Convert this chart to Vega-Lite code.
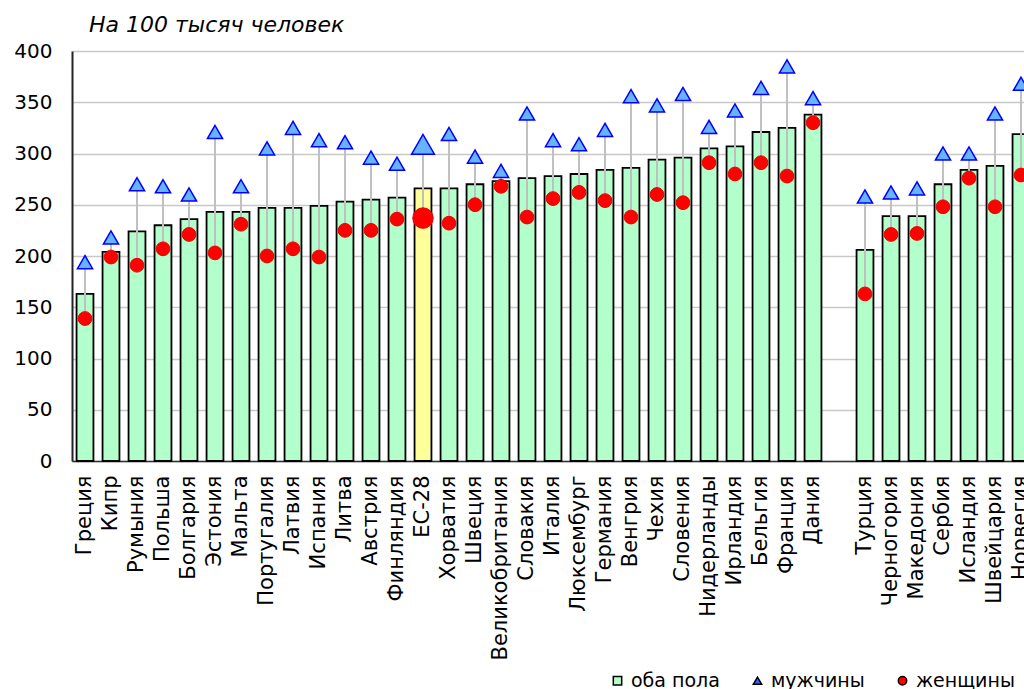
{
  "$schema": "https://vega.github.io/schema/vega-lite/v6.json",
  "width": 952,
  "height": 410,
  "autosize": {"type": "none"},
  "padding": {"left": 72, "top": 51, "right": 0, "bottom": 228},
  "background": "white",
  "title": {
    "text": "На 100 тысяч человек",
    "anchor": "start",
    "frame": "group",
    "dx": 17,
    "offset": 4,
    "font": "DejaVu Sans",
    "fontSize": 22,
    "fontStyle": "italic",
    "fontWeight": "normal",
    "color": "black"
  },
  "config": {
    "view": {"stroke": null},
    "font": "DejaVu Sans"
  },
  "data": {
    "values": [
      {"country": "Греция", "both": 163, "men": 194, "women": 139},
      {"country": "Кипр", "both": 204, "men": 218, "women": 199},
      {"country": "Румыния", "both": 224, "men": 270, "women": 191},
      {"country": "Польша", "both": 230, "men": 268, "women": 207},
      {"country": "Болгария", "both": 236, "men": 260, "women": 221},
      {"country": "Эстония", "both": 243, "men": 321, "women": 203},
      {"country": "Мальта", "both": 243, "men": 268, "women": 231},
      {"country": "Португалия", "both": 247, "men": 305, "women": 200},
      {"country": "Латвия", "both": 247, "men": 325, "women": 207},
      {"country": "Испания", "both": 249, "men": 313, "women": 199},
      {"country": "Литва", "both": 253, "men": 311, "women": 225},
      {"country": "Австрия", "both": 255, "men": 296, "women": 225},
      {"country": "Финляндия", "both": 257, "men": 290, "women": 236},
      {"country": "ЕС-28", "both": 266, "men": 309, "women": 237},
      {"country": "Хорватия", "both": 266, "men": 319, "women": 232},
      {"country": "Швеция", "both": 270, "men": 297, "women": 250},
      {"country": "Великобритания", "both": 273, "men": 283, "women": 268},
      {"country": "Словакия", "both": 276, "men": 339, "women": 238},
      {"country": "Италия", "both": 278, "men": 313, "women": 256},
      {"country": "Люксембург", "both": 280, "men": 309, "women": 262},
      {"country": "Германия", "both": 284, "men": 323, "women": 254},
      {"country": "Венгрия", "both": 286, "men": 356, "women": 238},
      {"country": "Чехия", "both": 294, "men": 347, "women": 260},
      {"country": "Словения", "both": 296, "men": 358, "women": 252},
      {"country": "Нидерланды", "both": 305, "men": 326, "women": 291},
      {"country": "Ирландия", "both": 307, "men": 342, "women": 280},
      {"country": "Бельгия", "both": 321, "men": 364, "women": 291},
      {"country": "Франция", "both": 325, "men": 385, "women": 278},
      {"country": "Дания", "both": 338, "men": 354, "women": 330},
      {"country": "Турция", "both": 206, "men": 258, "women": 163},
      {"country": "Черногория", "both": 239, "men": 262, "women": 221},
      {"country": "Македония", "both": 239, "men": 266, "women": 222},
      {"country": "Сербия", "both": 270, "men": 300, "women": 248},
      {"country": "Исландия", "both": 284, "men": 300, "women": 276},
      {"country": "Швейцария", "both": 288, "men": 339, "women": 248},
      {"country": "Норвегия", "both": 319, "men": 368, "women": 279}
    ]
  },
  "encoding": {
    "x": {
      "field": "country",
      "type": "nominal",
      "sort": null,
      "scale": {
        "domain": ["Греция", "Кипр", "Румыния", "Польша", "Болгария", "Эстония", "Мальта", "Португалия", "Латвия", "Испания", "Литва", "Австрия", "Финляндия", "ЕС-28", "Хорватия", "Швеция", "Великобритания", "Словакия", "Италия", "Люксембург", "Германия", "Венгрия", "Чехия", "Словения", "Нидерланды", "Ирландия", "Бельгия", "Франция", "Дания", " ", "Турция", "Черногория", "Македония", "Сербия", "Исландия", "Швейцария", "Норвегия"],
        "range": [0, 962],
        "paddingInner": 0.35,
        "paddingOuter": 0.175
      },
      "axis": {
        "title": null,
        "labelAngle": -90,
        "labelAlign": "right",
        "labelBaseline": "middle",
        "labelFont": "DejaVu Sans",
        "labelFontSize": 21,
        "labelColor": "black",
        "labelPadding": 14,
        "labelLimit": 300,
        "labelOverlap": false,
        "ticks": false,
        "domainColor": "#333333",
        "domainWidth": 1.5,
        "grid": false
      }
    }
  },
  "layer": [
    {
      "mark": {"type": "bar", "stroke": "black", "strokeWidth": 1.8},
      "encoding": {
        "y": {
          "field": "both",
          "type": "quantitative",
          "scale": {"domain": [0, 400], "nice": false},
          "axis": {
            "title": null,
            "values": [0, 50, 100, 150, 200, 250, 300, 350, 400],
            "labelFont": "DejaVu Sans",
            "labelFontSize": 20,
            "labelColor": "black",
            "labelPadding": 20,
            "ticks": false,
            "domainColor": "#222222",
            "domainWidth": 2,
            "gridColor": "#c8c8c8",
            "gridWidth": 1.5
          }
        },
        "color": {
          "condition": {"test": "datum.country === 'ЕС-28'", "value": "#ffff99"},
          "datum": "оба пола",
          "scale": {
            "domain": ["оба пола", "мужчины", "женщины"],
            "range": ["#b3ffcc", "#3366ff", "#ff0000"]
          },
          "legend": {
            "title": null,
            "orient": "none",
            "direction": "horizontal",
            "legendX": 536,
            "legendY": 620,
            "padding": 0,
            "labelFont": "DejaVu Sans",
            "labelFontSize": 19,
            "labelColor": "black",
            "columnPadding": 28,
            "symbolSize": 70,
            "symbolStrokeWidth": 1.5,
            "labelOffset": 4
          }
        }
      }
    },
    {
      "mark": {"type": "rule", "color": "#c0c0c0", "strokeWidth": 2},
      "encoding": {
        "y": {"field": "men", "type": "quantitative"},
        "y2": {"field": "women"}
      }
    },
    {
      "mark": {"type": "point", "filled": true, "fill": "#66b3ff", "stroke": "#0000ff", "strokeWidth": 1.5, "opacity": 1},
      "encoding": {
        "y": {"field": "men", "type": "quantitative"},
        "shape": {
          "datum": "мужчины",
          "scale": {
            "domain": ["оба пола", "мужчины", "женщины"],
            "range": ["square", "triangle-up", "circle"]
          },
          "legend": {
            "title": null,
            "orient": "none",
            "direction": "horizontal",
            "legendX": 536,
            "legendY": 620,
            "padding": 0,
            "labelFont": "DejaVu Sans",
            "labelFontSize": 19,
            "labelColor": "black",
            "columnPadding": 28,
            "symbolSize": 70,
            "symbolStrokeWidth": 1.5,
            "labelOffset": 4
          }
        },
        "size": {"condition": {"test": "datum.country === 'ЕС-28'", "value": 520}, "value": 230}
      }
    },
    {
      "mark": {"type": "point", "filled": true, "fill": "#ff0000", "stroke": "#ee0000", "strokeWidth": 1, "opacity": 1},
      "encoding": {
        "y": {"field": "women", "type": "quantitative"},
        "shape": {"datum": "женщины"},
        "size": {"condition": {"test": "datum.country === 'ЕС-28'", "value": 420}, "value": 190}
      }
    }
  ]
}
